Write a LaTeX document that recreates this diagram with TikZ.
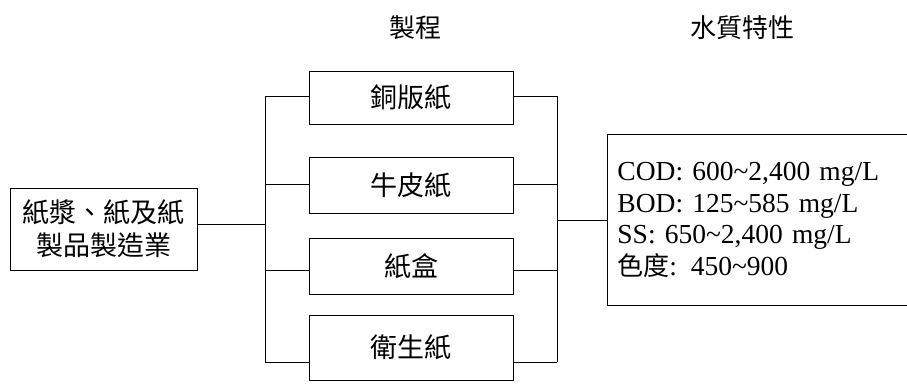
\documentclass[tikz,border=0pt]{standalone}
\usepackage{fontspec}
\setmainfont{Liberation Serif}
\newfontfamily\cjk{Noto Sans CJK TC}
\begin{document}
\begin{tikzpicture}[x=1pt,y=-1pt,
  box/.style={draw,line width=0.9pt,inner sep=0pt,font=\cjk\fontsize{27}{33}\selectfont},
  conn/.style={line width=0.9pt}]
\useasboundingbox (0,0) rectangle (907,383);
% titles
\node[font=\cjk\fontsize{26}{30}\selectfont] (t1) at (415,28) {製程};
\node[font=\cjk\fontsize{26}{30}\selectfont] (t2) at (742,28) {水質特性};
% left box
\node[box,minimum width=187pt,minimum height=82pt,align=center] (ind) at (103.5,229) {紙漿、紙及紙\\製品製造業};
% process boxes
\node[box,minimum width=204pt,minimum height=53pt] (p1) at (411,97.5) {銅版紙};
\node[box,minimum width=204pt,minimum height=56pt] (p2) at (411,185) {牛皮紙};
\node[box,minimum width=204pt,minimum height=56pt] (p3) at (411,266) {紙盒};
\node[box,minimum width=204pt,minimum height=65pt] (p4) at (411,347.5) {衛生紙};
% right box (its right side lies beyond the page edge)
\node[draw,line width=0.9pt,anchor=north west,minimum height=171pt,text width=290pt,inner xsep=10pt,inner ysep=0pt,align=left,
  font=\fontsize{27.5}{31.7}\selectfont] (wq) at (607,134)
  {COD: 600\char`\~2,400 mg/L\\BOD: 125\char`\~585 mg/L\\SS: 650\char`\~2,400 mg/L\\{\cjk\fontsize{26}{31.7}\selectfont 色度}: 450\char`\~900};
% bus coordinates
\coordinate (lt) at (265,96);
\coordinate (lb) at (265,362);
\coordinate (lm) at (265,224);
\coordinate (rt) at (557,96);
\coordinate (rb) at (557,362);
\coordinate (rm) at (557,220);
% connectors
\draw[conn] (ind.east |- lm) -- (lm);
\draw[conn] (lt) -- (lb);
\draw[conn] (lt) -- (p1.west |- lt);
\draw[conn] (265,184) -- (p2.west |- 265,184);
\draw[conn] (265,270) -- (p3.west |- 265,270);
\draw[conn] (lb) -- (p4.west |- lb);
\draw[conn] (rt) -- (rb);
\draw[conn] (p1.east |- rt) -- (rt);
\draw[conn] (p2.east |- 557,184) -- (557,184);
\draw[conn] (p3.east |- 557,270) -- (557,270);
\draw[conn] (p4.east |- rb) -- (rb);
\draw[conn] (rm) -- (wq.west |- rm);
\end{tikzpicture}
\end{document}
